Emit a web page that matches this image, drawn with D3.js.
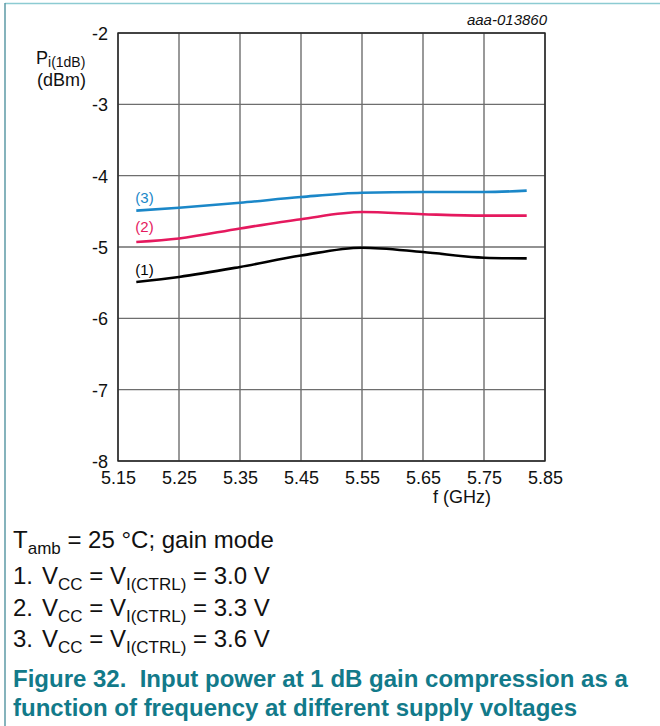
<!DOCTYPE html>
<html>
<head>
<meta charset="utf-8">
<script src="https://cdn.jsdelivr.net/npm/d3@7"></script>
<style>
  body { margin: 0; background: #fff; }
  text { font-family: "Liberation Sans", Arial, sans-serif; }
</style>
</head>
<body>
<div id="chart"></div>
<script>
// frequency points (GHz)
var freq = [5.18, 5.25, 5.35, 5.45, 5.55, 5.65, 5.75, 5.82];
// Pi(1dB) in dBm, one array per supply voltage
var curve1 = [-5.49, -5.42, -5.28, -5.12, -5.01, -5.07, -5.15, -5.16];
var curve2 = [-4.93, -4.88, -4.74, -4.61, -4.51, -4.54, -4.56, -4.56];
var curve3 = [-4.49, -4.45, -4.38, -4.30, -4.24, -4.23, -4.23, -4.21];
var seriesLabels = ["(1)", "(2)", "(3)"];
var seriesColors = ["#000000", "#e5195e", "#1b87c8"];
var xTicks = [5.15, 5.25, 5.35, 5.45, 5.55, 5.65, 5.75, 5.85];
var yTicks = [-8, -7, -6, -5, -4, -3, -2];

var svg = d3.select("#chart").append("svg")
    .attr("width", 660)
    .attr("height", 726);

// page frame: top and left rules
svg.append("line").attr("x1", 5).attr("x2", 660).attr("y1", 3.5).attr("y2", 3.5)
    .attr("stroke", "#8ccbd2").attr("stroke-width", 1.5);
svg.append("line").attr("x1", 5).attr("x2", 5).attr("y1", 3).attr("y2", 726)
    .attr("stroke", "#5c9aa6").attr("stroke-width", 1.5);

var margin = {top: 33, left: 118},
    width = 427,
    height = 428;

var x = d3.scaleLinear().domain([5.15, 5.85]).range([0, width]);
var y = d3.scaleLinear().domain([-8, -2]).range([height, 0]);

var g = svg.append("g")
    .attr("transform", "translate(" + margin.left + "," + margin.top + ")");

// grid
g.selectAll(".vgrid").data(xTicks).enter().append("line")
    .attr("x1", function(d){return x(d);}).attr("x2", function(d){return x(d);})
    .attr("y1", 0).attr("y2", height)
    .attr("stroke", "#6e6e6e").attr("stroke-width", 1.4);
g.selectAll(".hgrid").data(yTicks).enter().append("line")
    .attr("x1", 0).attr("x2", width)
    .attr("y1", function(d){return y(d);}).attr("y2", function(d){return y(d);})
    .attr("stroke", "#6e6e6e").attr("stroke-width", 1.4);
g.append("rect").attr("width", width).attr("height", height)
    .attr("fill", "none").attr("stroke", "#222").attr("stroke-width", 1.4);

// axes (labels only), plain hyphen as in the datasheet
var yAxis = g.append("g")
    .call(d3.axisLeft(y).tickValues(yTicks).tickSize(0).tickPadding(10)
      .tickFormat(function(d){return String(d);}));
yAxis.select(".domain").remove();
yAxis.selectAll("text").attr("font-size", "18px").attr("fill", "#111")
    .attr("font-family", "Liberation Sans, Arial, sans-serif").attr("dy", "0.36em");

var xAxis = g.append("g")
    .attr("transform", "translate(0," + height + ")")
    .call(d3.axisBottom(x).tickValues(xTicks).tickSize(0).tickPadding(10).tickFormat(d3.format(".2f")));
xAxis.select(".domain").remove();
xAxis.selectAll("text").attr("font-size", "18px").attr("fill", "#111")
    .attr("font-family", "Liberation Sans, Arial, sans-serif").attr("dy", "0.72em");

// curves
var line = d3.line()
    .x(function(d){return x(d[0]);})
    .y(function(d){return y(d[1]);})
    .curve(d3.curveMonotoneX);

var allCurves = [curve1, curve2, curve3];
allCurves.forEach(function(c, i) {
  g.append("path")
    .datum(freq.map(function(f, j){return [f, c[j]];}))
    .attr("d", line)
    .attr("fill", "none")
    .attr("stroke", seriesColors[i])
    .attr("stroke-width", 2.6);
});

// curve labels
var labelY = [-5.39, -4.79, -4.38];
seriesLabels.forEach(function(l, i) {
  g.append("text")
    .attr("x", x(5.18) - 1)
    .attr("y", y(labelY[i]))
    .attr("font-size", "15px")
    .attr("fill", seriesColors[i])
    .text(l);
});

// axis titles
var yt = svg.append("text").attr("x", 36).attr("y", 64).attr("font-size", "18px").attr("fill", "#111");
yt.append("tspan").text("P");
yt.append("tspan").attr("font-size", "14px").attr("dy", 3).text("i(1dB)");
svg.append("text").attr("x", 37).attr("y", 86).attr("font-size", "18px").attr("fill", "#111").text("(dBm)");

svg.append("text").attr("x", 462).attr("y", 503).attr("text-anchor", "middle")
    .attr("font-size", "18px").attr("fill", "#111").text("f (GHz)");

svg.append("text").attr("x", 547).attr("y", 25).attr("text-anchor", "end")
    .attr("font-size", "15px").attr("font-style", "italic").attr("fill", "#111").text("aaa-013860");

// notes under the chart
var note = svg.append("text").attr("x", 13).attr("y", 548).attr("font-size", "24px").attr("fill", "#111");
note.append("tspan").text("T");
note.append("tspan").attr("font-size", "17px").attr("dy", 6).text("amb");
note.append("tspan").attr("dy", -6).text(" = 25 °C; gain mode");

var volts = ["3.0", "3.3", "3.6"];
volts.forEach(function(v, i) {
  var t = svg.append("text").attr("y", 584 + i * 31.5).attr("font-size", "24px").attr("fill", "#111");
  t.append("tspan").attr("x", 13).text((i + 1) + ".");
  t.append("tspan").attr("x", 42).text("V");
  t.append("tspan").attr("font-size", "17px").attr("dy", 6).text("CC");
  t.append("tspan").attr("dy", -6).text(" = V");
  t.append("tspan").attr("font-size", "17px").attr("dy", 6).text("I(CTRL)");
  t.append("tspan").attr("dy", -6).text(" = " + v + " V");
});

var caption = ["Figure 32.  Input power at 1 dB gain compression as a",
               "function of frequency at different supply voltages"];
caption.forEach(function(c, i) {
  svg.append("text").attr("x", 13).attr("y", 687 + i * 29)
    .attr("font-size", "24px").attr("font-weight", "bold").attr("fill", "#127a8a")
    .attr("xml:space", "preserve").style("white-space", "pre")
    .text(c);
});
</script>
</body>
</html>
